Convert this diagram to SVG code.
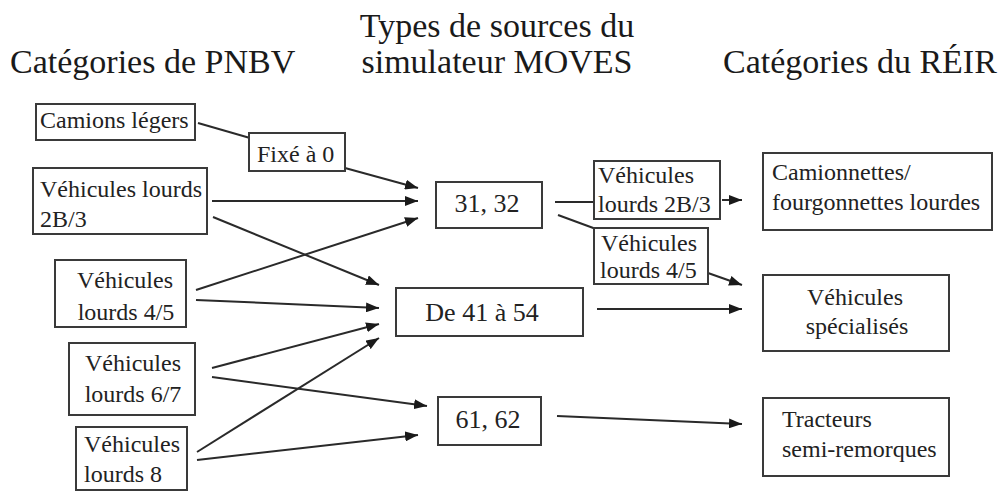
<svg xmlns="http://www.w3.org/2000/svg" width="999" height="491" viewBox="0 0 999 491">
  <style>
    .box { fill: #fff; stroke: #3a3a3a; stroke-width: 2; }
    .edge { fill: none; stroke: #2a2a2a; stroke-width: 2; }
    .arr { marker-end: url(#head); }
  </style>
  <defs>
    <marker id="head" markerUnits="userSpaceOnUse" markerWidth="14" markerHeight="10" refX="13" refY="5" orient="auto">
      <path d="M0,0 L13,5 L0,10 z" fill="#1a1a1a"/>
    </marker>
  </defs>
  <rect width="999" height="491" fill="#fff"/>

  <!-- column headings -->
  <g id="headings" fill="#1a1a1a" font-family="Liberation Serif, Times New Roman, serif" font-size="34">
    <text x="10" y="73">Catégories de PNBV</text>
    <text text-anchor="middle" x="497" y="37">Types de sources du</text>
    <text text-anchor="middle" x="497" y="73">simulateur MOVES</text>
    <text x="723" y="73">Catégories du RÉIR</text>
  </g>

  <!-- connectors -->
  <g id="connectors">
    <line class="edge" x1="198" y1="123" x2="250" y2="138"/>
    <line class="edge arr" x1="345" y1="168" x2="418" y2="188"/>
    <line class="edge arr" x1="212" y1="201" x2="418" y2="201"/>
    <line class="edge arr" x1="196" y1="290" x2="418" y2="218"/>
    <line class="edge arr" x1="213" y1="217" x2="379" y2="285"/>
    <line class="edge arr" x1="196" y1="300" x2="379" y2="308"/>
    <line class="edge arr" x1="212" y1="368" x2="379" y2="324"/>
    <line class="edge arr" x1="197" y1="452" x2="379" y2="338"/>
    <line class="edge arr" x1="212" y1="377" x2="427" y2="406"/>
    <line class="edge arr" x1="197" y1="460" x2="418" y2="435"/>
    <line class="edge" x1="555" y1="202" x2="594" y2="202"/>
    <line class="edge arr" x1="722" y1="200" x2="742" y2="200"/>
    <line class="edge" x1="558" y1="215" x2="596" y2="229"/>
    <line class="edge arr" x1="708" y1="273" x2="742" y2="285"/>
    <line class="edge arr" x1="597" y1="309" x2="742" y2="309"/>
    <line class="edge arr" x1="557" y1="416" x2="742" y2="424"/>
  </g>

  <!-- category and source-type boxes -->
  <g id="nodes" fill="#222" font-family="Liberation Serif, Times New Roman, serif" font-size="24">
    <g id="camions-legers">
      <rect class="box" x="36" y="104" width="159" height="36"/>
      <text x="40" y="128">Camions légers</text>
    </g>
    <g id="fixe-a-0">
      <rect class="box" x="249" y="133" width="96" height="38"/>
      <text x="257" y="162">Fixé à 0</text>
    </g>
    <g id="vl-2b3">
      <rect class="box" x="33" y="168" width="174" height="66"/>
      <text x="40" y="197">Véhicules lourds</text>
      <text x="40" y="227">2B/3</text>
    </g>
    <g id="vl-45">
      <rect class="box" x="55" y="260" width="131" height="67"/>
      <text text-anchor="middle" x="125" y="288">Véhicules</text>
      <text text-anchor="middle" x="126" y="320">lourds 4/5</text>
    </g>
    <g id="vl-67">
      <rect class="box" x="69" y="343" width="126" height="72"/>
      <text text-anchor="middle" x="133" y="371">Véhicules</text>
      <text text-anchor="middle" x="133" y="402">lourds 6/7</text>
    </g>
    <g id="vl-8">
      <rect class="box" x="76" y="427" width="111" height="63"/>
      <text x="84" y="452">Véhicules</text>
      <text x="84" y="482">lourds 8</text>
    </g>

    <g id="src-31-32">
      <rect class="box" x="436" y="182" width="106" height="46"/>
      <text font-size="26" text-anchor="middle" x="487" y="212">31, 32</text>
    </g>
    <g id="src-41-54">
      <rect class="box" x="396" y="288" width="187" height="48"/>
      <text font-size="26" text-anchor="middle" x="482" y="321">De 41 à 54</text>
    </g>
    <g id="src-61-62">
      <rect class="box" x="438" y="397" width="103" height="48"/>
      <text font-size="26" text-anchor="middle" x="488" y="428">61, 62</text>
    </g>

    <g id="lbl-2b3">
      <rect class="box" x="594" y="161" width="126" height="58"/>
      <text x="598" y="183">Véhicules</text>
      <text x="598" y="212">lourds 2B/3</text>
    </g>
    <g id="lbl-45">
      <rect class="box" x="594" y="228" width="114" height="56"/>
      <text x="601" y="251">Véhicules</text>
      <text x="600" y="278">lourds 4/5</text>
    </g>

    <g id="reir-camionnettes">
      <rect class="box" x="763" y="153" width="229" height="77"/>
      <text x="772" y="180">Camionnettes/</text>
      <text x="772" y="210">fourgonnettes lourdes</text>
    </g>
    <g id="reir-specialises">
      <rect class="box" x="763" y="275" width="186" height="76"/>
      <text text-anchor="middle" x="855" y="305">Véhicules</text>
      <text text-anchor="middle" x="857" y="334">spécialisés</text>
    </g>
    <g id="reir-tracteurs">
      <rect class="box" x="763" y="398" width="186" height="78"/>
      <text x="782" y="427">Tracteurs</text>
      <text x="782" y="457">semi-remorques</text>
    </g>
  </g>
</svg>
